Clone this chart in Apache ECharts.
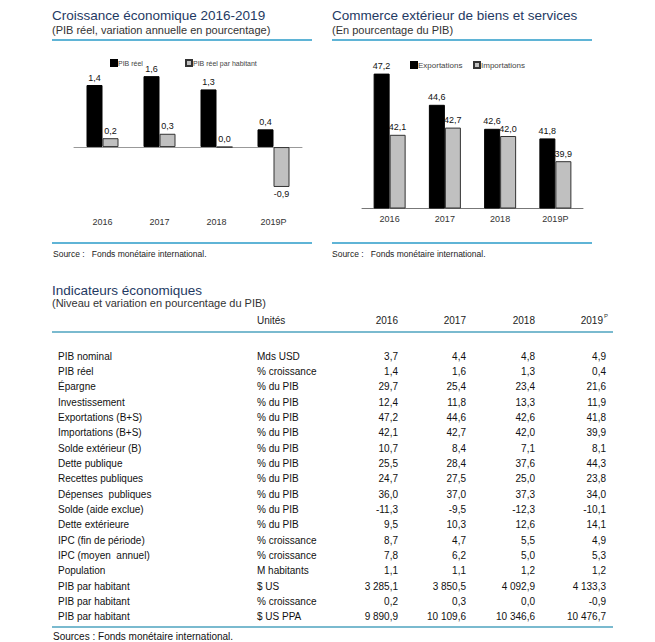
<!DOCTYPE html>
<html><head><meta charset="utf-8">
<script src="https://cdn.jsdelivr.net/npm/echarts@6/dist/echarts.min.js"></script>
<style>html,body{margin:0;padding:0;background:#fff}#c{width:655px;height:642px}</style>
</head><body><div id="c"></div>
<script>
// ---- data ----
const years = ['2016', '2017', '2018', '2019P'];
const pibReel = [1.4, 1.6, 1.3, 0.4];
const pibReelHab = [0.2, 0.3, 0.0, -0.9];
const exportations = [47.2, 44.6, 42.6, 41.8];
const importations = [42.1, 42.7, 42.0, 39.9];

const tableYears = ['2016', '2017', '2018', '2019'];
const rowLabels = ['PIB nominal', 'PIB réel', 'Épargne', 'Investissement', 'Exportations (B+S)',
  'Importations (B+S)', 'Solde extérieur (B)', 'Dette publique', 'Recettes publiques',
  'Dépenses  publiques', 'Solde (aide exclue)', 'Dette extérieure', 'IPC (fin de période)',
  'IPC (moyen  annuel)', 'Population', 'PIB par habitant', 'PIB par habitant', 'PIB par habitant'];
const rowUnits = ['Mds USD', '% croissance', '% du PIB', '% du PIB', '% du PIB', '% du PIB', '% du PIB',
  '% du PIB', '% du PIB', '% du PIB', '% du PIB', '% du PIB', '% croissance', '% croissance',
  'M habitants', '$ US', '% croissance', '$ US PPA'];
const values2016 = [3.7, 1.4, 29.7, 12.4, 47.2, 42.1, 10.7, 25.5, 24.7, 36.0, -11.3, 9.5, 8.7, 7.8, 1.1, 3285.1, 0.2, 9890.9];
const values2017 = [4.4, 1.6, 25.4, 11.8, 44.6, 42.7, 8.4, 28.4, 27.5, 37.0, -9.5, 10.3, 4.7, 6.2, 1.1, 3850.5, 0.3, 10109.6];
const values2018 = [4.8, 1.3, 23.4, 13.3, 42.6, 42.0, 7.1, 37.6, 25.0, 37.3, -12.3, 12.6, 5.5, 5.0, 1.2, 4092.9, 0.0, 10346.6];
const values2019 = [4.9, 0.4, 21.6, 11.9, 41.8, 39.9, 8.1, 44.3, 23.8, 34.0, -10.1, 14.1, 4.9, 5.3, 1.2, 4133.3, -0.9, 10476.7];

// ---- helpers ----
function fmt(v) {
  const s = Math.abs(v).toFixed(1).split('.');
  const i = s[0].replace(/\B(?=(\d{3})+(?!\d))/g, ' ');
  return (v < 0 ? '-' : '') + i + ',' + s[1];
}
const FONT = '"Liberation Sans", Arial, sans-serif';
const NAVY = '#1f3a63';
const BLUE = '#2a9bc8';
const TEAL = '#4ea3bf';

const chart = echarts.init(document.getElementById('c'), null, { renderer: 'svg', width: 655, height: 642 });

function txt(t, x, y, size, opts) {
  opts = opts || {};
  return {
    type: 'text', x: x, y: y, silent: true,
    style: {
      text: t, fill: opts.fill || '#222', textAlign: opts.align || 'left', textVerticalAlign: 'middle',
      font: (opts.weight || 'normal') + ' ' + size + 'px ' + FONT
    }
  };
}
function hline(x1, x2, y, color, w) {
  return { type: 'line', silent: true, shape: { x1: x1, y1: y, x2: x2, y2: y }, style: { stroke: color, lineWidth: w || 1.5 } };
}

const graphics = [];
// chart headers
graphics.push(txt('Croissance économique 2016-2019', 52, 15, 13.5, { fill: NAVY }));
graphics.push(txt('(PIB réel, variation annuelle en pourcentage)', 52, 30, 11, { fill: '#333' }));
graphics.push(hline(52, 312, 40, BLUE));
graphics.push(hline(52, 312, 243, BLUE));
graphics.push(txt('Source :   Fonds monétaire international.', 53, 254, 8.5, { fill: '#222' }));

graphics.push(txt('Commerce extérieur de biens et services', 332, 15, 13.5, { fill: NAVY }));
graphics.push(txt('(En pourcentage du PIB)', 332, 30, 11, { fill: '#333' }));
graphics.push(hline(332, 592, 40, BLUE));
graphics.push(hline(332, 592, 243, BLUE));
graphics.push(txt('Source :   Fonds monétaire international.', 332, 254, 8.5, { fill: '#222' }));

// table
graphics.push(txt('Indicateurs économiques', 52, 290, 13.5, { fill: NAVY }));
graphics.push(txt('(Niveau et variation en pourcentage du PIB)', 52, 303, 11, { fill: '#333' }));
graphics.push(txt('Unités', 257, 320, 10));
const colRight = [398, 466, 535, 603];
tableYears.forEach((y, j) => graphics.push(txt(y, colRight[j], 320, 10, { align: 'right' })));
graphics.push(txt('P', 604, 316, 6, { fill: '#333' }));
graphics.push(hline(52, 613, 332, TEAL));
const cols = [values2016, values2017, values2018, values2019];
const colRightVals = [398, 466, 535, 606];
const rowStart = 356, rowStep = (616.7 - 356) / (rowLabels.length - 1);
rowLabels.forEach((lab, i) => {
  const y = rowStart + i * rowStep;
  graphics.push(txt(lab, 58, y, 10, { fill: '#111' }));
  graphics.push(txt(rowUnits[i], 257, y, 10, { fill: '#111' }));
  cols.forEach((c, j) => graphics.push(txt(fmt(c[i]), colRightVals[j], y, 10, { align: 'right', fill: '#111' })));
});
graphics.push(hline(52, 613, 627, TEAL));
graphics.push(txt('Sources : Fonds monétaire international.', 53, 636, 10, { fill: '#111' }));

const labelStyle = { show: true, fontSize: 9, color: '#111', fontFamily: FONT, distance: 3, formatter: p => fmt(p.value) };

function barData(arr) {
  return arr.map(v => v < 0 ? { value: v, label: { position: 'bottom' } } : v);
}
function legendAt(left, top, name, size) {
  return { left: left, top: top, padding: 0, itemWidth: 6, itemHeight: 6, icon: 'rect', data: [name],
    textStyle: { fontSize: size, color: '#444', fontFamily: FONT, padding: [0, 0, 0, -4] } };
}

const option = {
  animation: false,
  graphic: graphics,
  legend: [
    legendAt(110, 59, 'PIB réel', 7),
    legendAt(185, 59, 'PIB réel par habitant', 7),
    legendAt(410, 61, 'Exportations', 8),
    legendAt(473, 61, 'Importations', 8)
  ],
  grid: [
    { left: 74, width: 228, top: 58.4, height: 133 },
    { left: 362, width: 221, top: 64, height: 144 }
  ],
  xAxis: [
    { type: 'category', gridIndex: 0, data: years,
      axisLine: { onZero: true, lineStyle: { color: '#999', width: 1 } }, axisTick: { show: false },
      axisLabel: { margin: 26, fontSize: 9, color: '#333', fontFamily: FONT } },
    { type: 'category', gridIndex: 1, data: years,
      axisLine: { lineStyle: { color: '#777', width: 1 } }, axisTick: { show: false },
      axisLabel: { margin: 6, fontSize: 9, color: '#333', fontFamily: FONT } }
  ],
  yAxis: [
    { type: 'value', gridIndex: 0, min: -1, max: 2, show: false, splitLine: { show: false } },
    { type: 'value', gridIndex: 1, min: 36, max: 48, show: false, splitLine: { show: false } }
  ],
  series: [
    { name: 'PIB réel', type: 'bar', xAxisIndex: 0, yAxisIndex: 0, data: barData(pibReel), barWidth: 16, barGap: '0%',
      itemStyle: { color: '#000', borderColor: '#000', borderWidth: 1 }, label: Object.assign({ position: 'top' }, labelStyle) },
    { name: 'PIB réel par habitant', type: 'bar', xAxisIndex: 0, yAxisIndex: 0, data: barData(pibReelHab), barWidth: 16, barGap: '0%',
      itemStyle: { color: '#c0c0c0', borderColor: '#333', borderWidth: 1 }, label: Object.assign({ position: 'top' }, labelStyle) },
    { name: 'Exportations', type: 'bar', xAxisIndex: 1, yAxisIndex: 1, data: exportations, barWidth: 16, barGap: '0%',
      itemStyle: { color: '#000', borderColor: '#000', borderWidth: 1 }, label: Object.assign({ position: 'top' }, labelStyle) },
    { name: 'Importations', type: 'bar', xAxisIndex: 1, yAxisIndex: 1, data: importations, barWidth: 16, barGap: '0%',
      itemStyle: { color: '#c0c0c0', borderColor: '#333', borderWidth: 1 }, label: Object.assign({ position: 'top' }, labelStyle) }
  ]
};
chart.setOption(option);
</script>
</body></html>
